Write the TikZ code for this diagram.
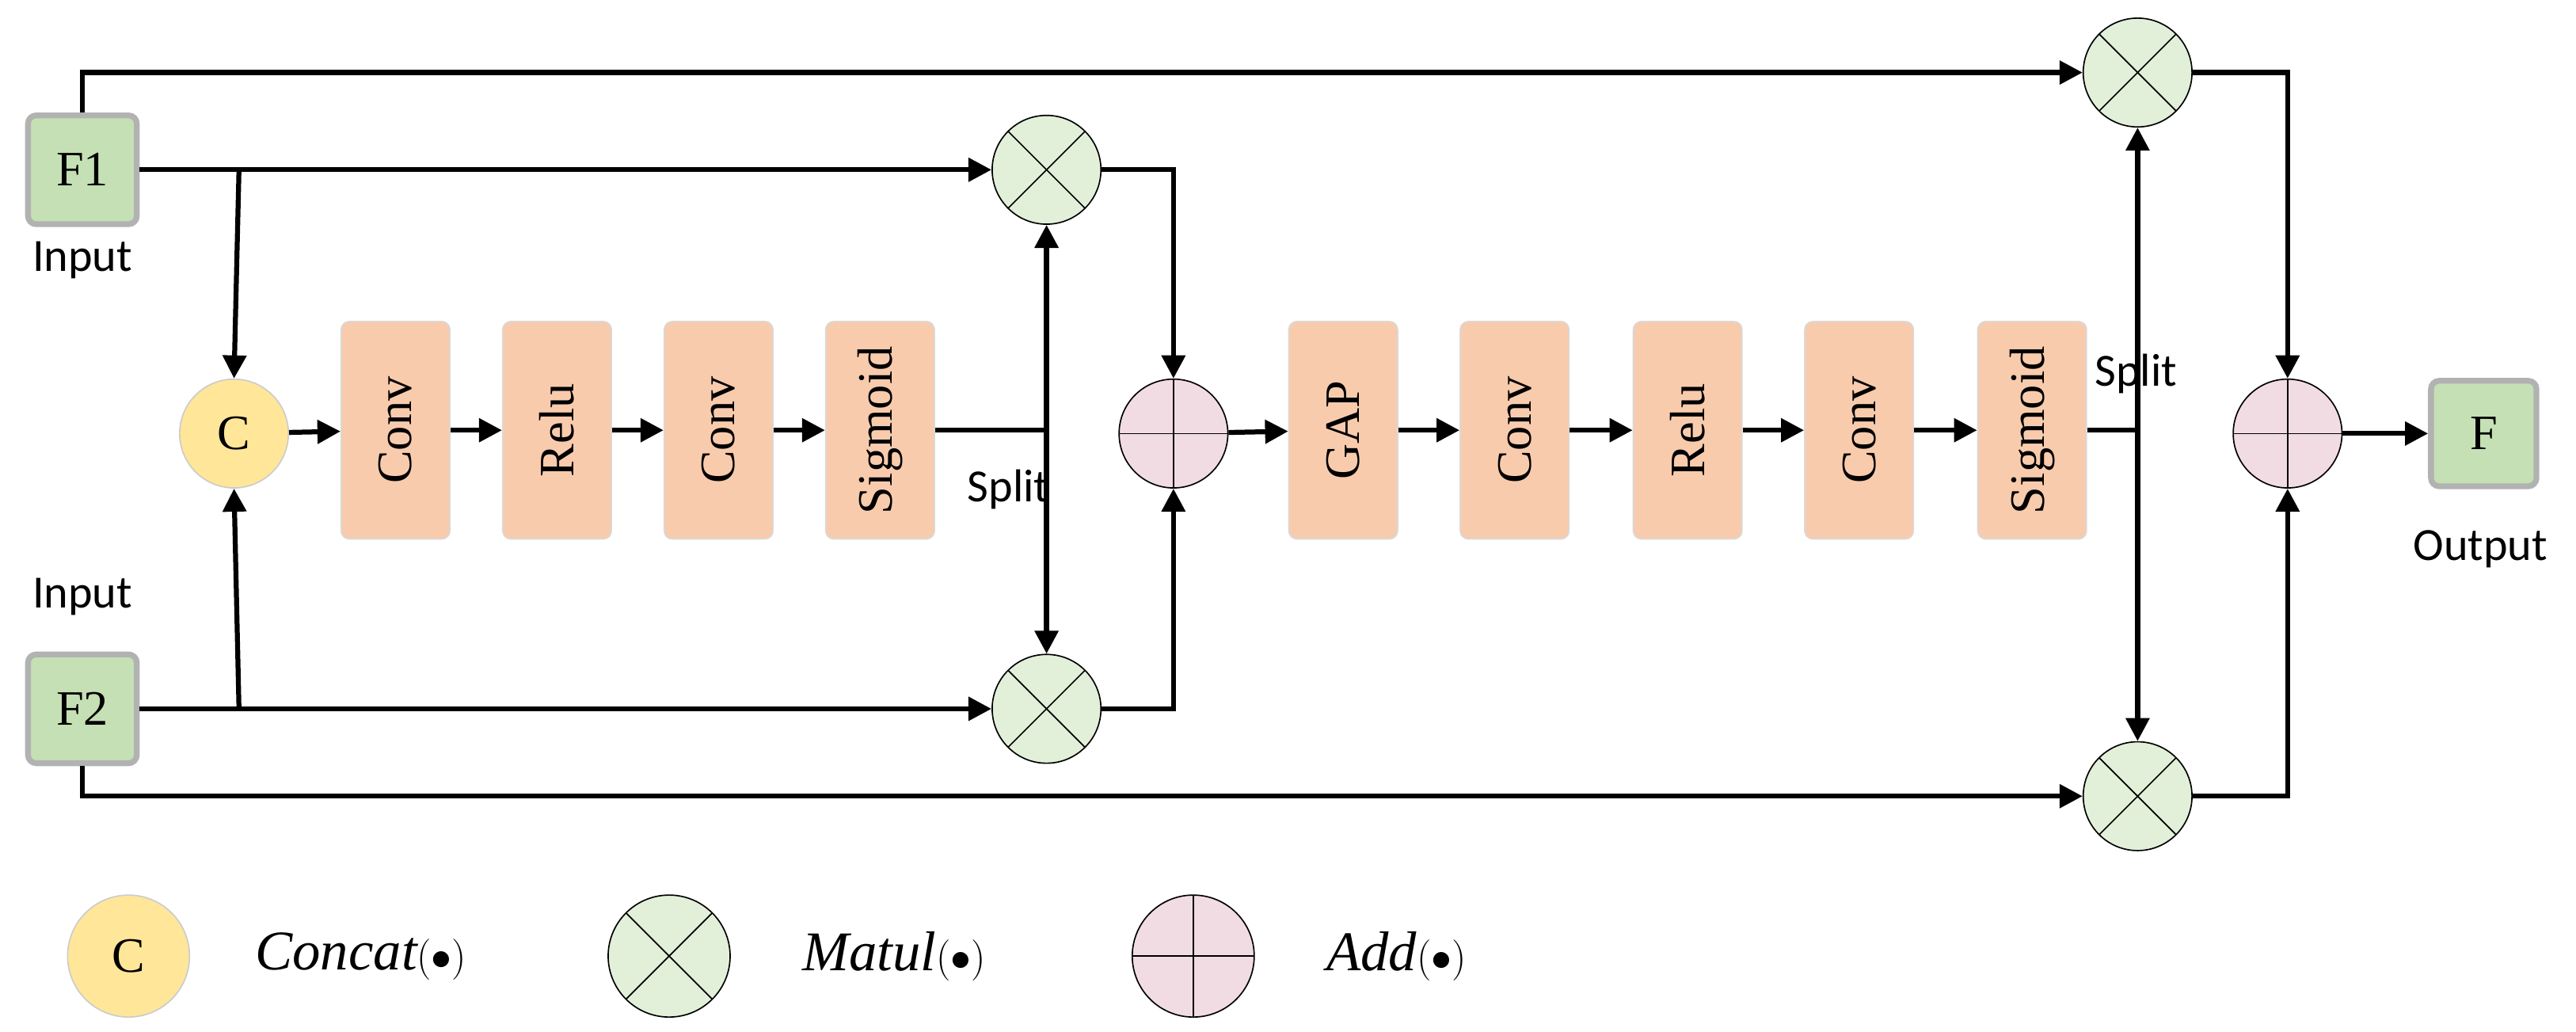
\documentclass[tikz,border=0pt]{standalone}
\usepackage{fontspec}
\setmainfont{Liberation Serif}
\newfontfamily\calfam{Carlito}
\usetikzlibrary{arrows.meta}
\definecolor{boxc}{HTML}{F8CBAD}
\definecolor{inc}{HTML}{C5E0B4}
\definecolor{mulc}{HTML}{E2F0D9}
\definecolor{addc}{HTML}{F2DCE4}
\definecolor{catc}{HTML}{FFE699}
\begin{document}
\begin{tikzpicture}[x=1pt,y=-1pt,line width=3pt,
  >={Triangle[length=14pt,width=14pt]},
  blk/.style={draw=black!15,line width=0.8pt,fill=boxc,rounded corners=5pt,minimum width=66pt,minimum height=132pt,inner sep=0pt},
  lbl/.style={rotate=90,font=\fontsize{30}{30}\selectfont},
  inp/.style={draw=black!30,line width=3.5pt,fill=inc,rounded corners=5pt,minimum size=66pt,font=\fontsize{30}{30}\selectfont},
  mul/.style={circle,draw,line width=0.8pt,fill=mulc,minimum size=66pt,inner sep=0pt,
    path picture={\draw[line width=0.8pt] (path picture bounding box.north west)--(path picture bounding box.south east)
      (path picture bounding box.north east)--(path picture bounding box.south west);}},
  add/.style={circle,draw,line width=0.8pt,fill=addc,minimum size=66pt,inner sep=0pt,
    path picture={\draw[line width=0.8pt] (path picture bounding box.north)--(path picture bounding box.south)
      (path picture bounding box.east)--(path picture bounding box.west);}},
  cat/.style={circle,draw=black!20,line width=0.8pt,fill=catc,minimum size=66pt,inner sep=0pt,font=\fontsize{30}{30}\selectfont},
  sans/.style={font=\calfam\fontsize{28}{28}\selectfont},
  leg/.style={font=\fontsize{34}{34}\selectfont\itshape,anchor=west}]
\useasboundingbox (0,0) rectangle (1563,626);
% inputs
\node[inp] (f1) at (50,103) {F1};
\node[inp] (f2) at (50,430) {F2};
\node[sans] (in1) at (50,158) {Input};
\node[sans] (in2) at (50,362) {Input};
\node[inp,minimum size=64pt] (fo) at (1507,263) {F};
\node[sans] (out) at (1505,333) {Output};
% first stage
\node[cat] (c) at (142,263) {C};
\node[blk] (b1) at (240,261) {}; \node[lbl] at (b1) {Conv};
\node[blk] (b2) at (338,261) {}; \node[lbl] at (b2) {Relu};
\node[blk] (b3) at (436,261) {}; \node[lbl] at (b3) {Conv};
\node[blk] (b4) at (534,261) {}; \node[lbl] at (b4) {Sigmoid};
\node[mul] (m1) at (635,103) {};
\node[mul] (m2) at (635,430) {};
\node[add] (a1) at (712,263) {};
\node[sans] (sp1) at (612,297) {Split};
% second stage
\node[blk] (g1) at (815,261) {}; \node[lbl] at (g1) {GAP};
\node[blk] (g2) at (919,261) {}; \node[lbl] at (g2) {Conv};
\node[blk] (g3) at (1024,261) {}; \node[lbl] at (g3) {Relu};
\node[blk] (g4) at (1128,261) {}; \node[lbl] at (g4) {Conv};
\node[blk] (g5) at (1233,261) {}; \node[lbl] at (g5) {Sigmoid};
\node[mul] (m3) at (1297,44) {};
\node[mul] (m4) at (1297,483) {};
\node[add] (a2) at (1388,263) {};
\node[sans] (sp2) at (1296,227) {Split};
\coordinate (s1) at (635,261);
\coordinate (s2) at (1297,261);
% connectors
\draw[->] (f1.east) -- (m1.west);
\draw[->] (f2.east) -- (m2.west);
\draw[->] (145,103) -- (c.north);
\draw[->] (145,430) -- (c.south);
\draw[->] (f1.north) |- (m3.west);
\draw[->] (f2.south) |- (m4.west);
\draw[->] (c) -- (b1); \draw[->] (b1) -- (b2); \draw[->] (b2) -- (b3); \draw[->] (b3) -- (b4);
\draw (b4.east) -- (s1);
\draw[<->] (m1.south) -- (m2.north);
\draw[->] (m1.east) -| (a1.north);
\draw[->] (m2.east) -| (a1.south);
\draw[->] (a1) -- (g1); \draw[->] (g1) -- (g2); \draw[->] (g2) -- (g3); \draw[->] (g3) -- (g4); \draw[->] (g4) -- (g5);
\draw (g5.east) -- (s2);
\draw[<->] (m3.south) -- (m4.north);
\draw[->] (m3.east) -| (a2.north);
\draw[->] (m4.east) -| (a2.south);
\draw[->] (a2) -- (fo);
% legend
\node[cat,minimum size=74pt] (lc) at (78,580) {C};
\node[leg] (lct) at (150,580) {Concat$\bigl(\bullet\bigr)$};
\node[mul,minimum size=74pt] (lm) at (406,580) {};
\node[leg] (lmt) at (482,580) {Matul$\bigl(\bullet\bigr)$};
\node[add,minimum size=74pt] (la) at (724,580) {};
\node[leg] (lat) at (800,580) {Add$\bigl(\bullet\bigr)$};
\end{tikzpicture}
\end{document}
